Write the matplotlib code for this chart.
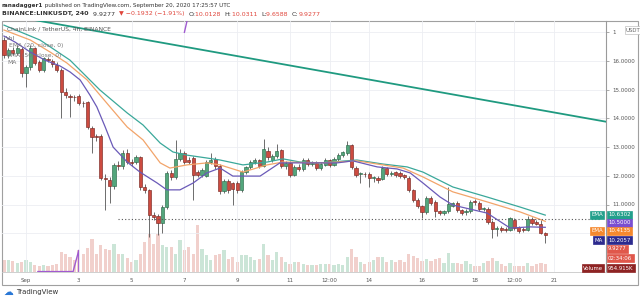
import matplotlib
matplotlib.use('Agg')
import matplotlib.pyplot as plt
from matplotlib.patches import Rectangle

# 4h candles, index 0 = Sep 1 00:00 (first candle = Aug 31 04:00)
first_t = -5
opens = [16.73, 16.21, 16.38, 16.27, 16.42, 15.58, 15.79, 16.45, 15.96, 15.69,
         16.08, 16.00, 15.86, 15.69, 14.92, 14.78, 14.75, 14.78, 14.54, 14.57,
         13.67, 13.36, 13.39, 11.92, 11.85, 11.64, 12.36, 12.34, 12.80, 12.48,
         12.48, 12.65, 11.60, 11.50, 10.63, 10.60, 10.36, 10.91, 12.10, 11.96,
         12.59, 12.80, 12.55, 12.62, 12.13, 12.03, 12.00, 12.48, 12.59, 12.34,
         11.47, 11.82, 11.75, 11.75, 11.50, 12.13, 12.30, 12.48, 12.55, 12.34,
         12.86, 12.55, 12.69, 12.90, 12.34, 12.45, 12.03, 12.31, 12.24, 12.55,
         12.41, 12.45, 12.27, 12.38, 12.55, 12.38, 12.59, 12.72, 12.79, 13.07,
         12.27, 12.06, 12.06, 12.06, 11.92, 11.92, 11.89, 12.27, 12.08, 12.13,
         12.10, 12.03, 11.92, 11.50, 11.15, 10.94, 10.74, 11.23, 11.10, 10.77,
         10.70, 10.77, 10.95, 11.06, 10.80, 10.74, 10.77, 11.09, 11.06, 10.84,
         10.84, 10.39, 10.15, 10.18, 10.15, 10.11, 10.46, 10.21, 10.15, 10.11,
         10.50, 10.39, 10.33, 10.0128]
highs = [16.85, 16.45, 16.50, 16.55, 16.50, 15.85, 16.55, 16.50, 16.05, 16.15,
         16.15, 16.06, 15.95, 15.75, 15.05, 14.85, 14.82, 14.85, 14.62, 14.62,
         13.75, 13.45, 13.45, 12.05, 11.95, 12.45, 12.50, 12.90, 12.95, 12.60,
         12.72, 12.70, 11.70, 11.55, 10.75, 10.68, 10.98, 12.15, 12.20, 13.25,
         12.95, 12.88, 12.65, 12.70, 12.20, 12.28, 12.55, 12.80, 12.65, 12.40,
         11.90, 11.88, 11.80, 11.82, 12.20, 12.35, 12.55, 12.62, 12.60, 13.28,
         13.00, 12.75, 13.10, 12.95, 12.50, 12.52, 12.38, 12.40, 12.62, 12.62,
         12.50, 12.50, 12.48, 12.62, 12.60, 12.65, 12.78, 12.88, 13.20, 13.12,
         12.35, 12.12, 12.12, 12.12, 12.00, 11.98, 12.33, 12.32, 12.16, 12.18,
         12.15, 12.08, 11.98, 11.55, 11.22, 11.00, 11.30, 11.28, 11.15, 10.82,
         10.82, 11.61, 11.10, 11.12, 10.86, 10.85, 11.15, 11.20, 11.12, 10.92,
         10.90, 10.45, 10.25, 10.25, 10.22, 10.58, 10.52, 10.26, 10.20, 10.60,
         10.56, 10.45, 10.45, 10.0311]
lows = [16.10, 16.12, 16.20, 16.20, 15.45, 15.09, 15.70, 15.85, 15.60, 15.62,
        15.95, 15.80, 15.62, 14.00, 14.70, 14.05, 14.62, 14.45, 14.40, 13.62,
        12.79, 13.20, 11.85, 10.81, 11.05, 11.55, 12.20, 12.25, 12.40, 12.35,
        12.40, 11.50, 11.40, 9.87, 10.45, 9.95, 10.00, 10.85, 11.85, 11.90,
        12.50, 12.40, 12.40, 11.16, 11.95, 11.95, 11.95, 12.40, 12.25, 11.35,
        11.40, 11.40, 11.00, 11.40, 11.45, 12.05, 12.25, 12.40, 12.28, 12.30,
        12.55, 12.48, 12.62, 12.28, 12.25, 11.95, 11.98, 12.18, 12.18, 12.35,
        12.35, 12.20, 12.20, 12.33, 12.30, 12.33, 12.52, 12.66, 12.74, 12.25,
        11.95, 11.75, 11.95, 11.60, 11.80, 11.75, 11.85, 11.98, 11.98, 11.96,
        11.92, 11.88, 11.45, 11.10, 10.88, 10.53, 10.68, 11.00, 10.55, 10.62,
        10.64, 10.72, 10.90, 10.74, 10.62, 10.65, 10.72, 11.00, 10.78, 10.76,
        10.33, 9.84, 9.90, 10.05, 10.05, 10.06, 10.12, 10.02, 10.05, 10.06,
        10.30, 10.28, 9.98, 9.6588]
closes = [16.21, 16.38, 16.27, 16.45, 15.58, 15.79, 16.45, 15.93, 15.69, 16.10,
          16.03, 15.88, 15.69, 14.92, 14.82, 14.75, 14.73, 14.54, 14.52, 13.70,
          13.35, 13.35, 11.92, 11.90, 11.64, 12.38, 12.34, 12.80, 12.48, 12.45,
          12.65, 11.60, 11.50, 10.63, 10.56, 10.36, 10.91, 12.10, 11.96, 12.59,
          12.80, 12.48, 12.48, 12.03, 12.03, 12.20, 12.48, 12.55, 12.34, 11.47,
          11.82, 11.50, 11.54, 11.50, 12.13, 12.30, 12.48, 12.55, 12.34, 12.93,
          12.65, 12.69, 12.86, 12.34, 12.45, 12.03, 12.31, 12.24, 12.55, 12.41,
          12.45, 12.27, 12.41, 12.55, 12.38, 12.59, 12.72, 12.83, 13.07, 12.30,
          12.03, 12.06, 12.05, 11.92, 11.92, 11.85, 12.27, 12.06, 12.10, 12.03,
          11.99, 11.96, 11.50, 11.15, 10.94, 10.74, 11.23, 11.06, 10.77, 10.70,
          10.77, 11.02, 11.05, 10.80, 10.70, 10.77, 11.09, 11.08, 10.84, 10.84,
          10.39, 10.15, 10.15, 10.11, 10.11, 10.53, 10.18, 10.08, 10.11, 10.50,
          10.36, 10.33, 10.01, 9.9277]
# volume, millions
volumes = [1.44, 1.44, 1.32, 1.08, 1.20, 1.44, 1.20, 0.84, 0.72, 0.84,
           0.72, 0.84, 0.96, 2.40, 2.16, 1.80, 1.44, 2.64, 2.16, 2.88,
           3.96, 2.16, 3.24, 2.76, 2.64, 3.36, 2.16, 2.16, 1.68, 1.20,
           1.44, 2.16, 3.60, 4.56, 3.36, 4.56, 3.24, 3.00, 3.00, 2.16,
           3.84, 2.64, 3.00, 2.16, 5.64, 2.76, 2.04, 1.44, 2.04, 2.16,
           2.64, 1.56, 1.80, 1.20, 2.04, 2.04, 1.80, 1.44, 1.56, 3.36,
           2.04, 1.44, 2.40, 1.80, 1.20, 0.96, 1.20, 1.20, 0.96, 0.84,
           0.84, 0.84, 0.96, 0.96, 0.96, 0.84, 0.96, 0.84, 1.80, 2.76,
           1.80, 1.20, 0.96, 1.20, 1.44, 1.80, 1.80, 1.20, 1.44, 1.20,
           1.44, 1.20, 2.16, 1.92, 1.68, 1.32, 1.56, 1.32, 1.56, 1.68,
           1.08, 2.28, 1.08, 1.08, 0.96, 1.32, 0.96, 0.72, 0.72, 1.08,
           1.32, 1.68, 1.32, 0.96, 0.72, 1.08, 0.72, 0.72, 0.72, 1.08,
           0.72, 0.96, 1.08, 0.95]

# indicator lines (candle index, price)
ma_t = [-5, -2.5, 1, 4.3, 7.7, 10, 12.3, 14.5, 16.1, 18, 19.8, 23, 25.9, 29.8,
        32, 35, 38, 41.1, 44.1, 47, 53.2, 57.7, 62.3, 70.7, 74.3, 79.8, 84.3,
        87.3, 90.2, 94.1, 97, 104.8, 110, 114.5, 118]
ma_p = [16.87, 16.66, 16.31, 16.03, 15.83, 15.62, 15.34, 14.82, 14.40, 13.70,
        13.00, 12.48, 12.13, 11.75, 11.51, 11.51, 11.75, 12.10, 12.27, 11.99,
        11.99, 12.45, 12.45, 12.45, 12.52, 12.31, 12.24, 12.10, 11.75, 11.26,
        10.98, 10.70, 10.18, 10.22, 10.2057]
ema1_t = [-5, 1, 5.5, 9.3, 13.9, 19.1, 23, 26.6, 30.5, 32.7, 36.6, 41.1, 44.1,
          49.3, 54.8, 58.4, 66.8, 70.7, 75.2, 81.1, 85.7, 90.2, 97, 104.8,
          112.3, 118]
ema1_p = [17.08, 16.73, 16.31, 15.93, 15.34, 14.40, 13.70, 13.25, 12.45, 12.27,
          12.38, 12.45, 12.38, 12.13, 12.38, 12.48, 12.45, 12.48, 12.52, 12.38,
          12.27, 11.96, 11.44, 11.09, 10.74, 10.4135]
ema2_t = [-5, 3.2, 10, 16.8, 23, 26.6, 30.5, 33.4, 36.6, 41.1, 44.1, 49.3,
          54.8, 58.4, 62.3, 66.8, 75.2, 81.1, 86.6, 90.2, 97, 104.8, 112.3, 118]
ema2_p = [17.25, 16.73, 16.03, 14.99, 14.19, 13.77, 13.14, 12.83, 12.72, 12.62,
          12.55, 12.38, 12.48, 12.59, 12.48, 12.45, 12.55, 12.41, 12.31, 12.13,
          11.61, 11.26, 10.91, 10.6302]
volma_t = [2.7, 10.7, 12.0, 12.0]
volma_v = [0.05, 0.05, 2.6, 0.0]
purple_t = [36.0, 36.6]
purple_p = [17.0, 17.4]
trend_t = [0, 131.8]
trend_p = [17.48, 13.885]
hline_t0 = 21
hline_p = 10.5

xtick_t = [0, 12, 24, 36, 48, 60, 69, 78, 90, 102, 111, 120]
xtick_lab = ['Sep', '3', '5', '7', '9', '11', '12:00', '14', '16', '18', '12:00', '21']
ytick_p = [11, 12, 13, 14, 15, 16, 17]
# 17.0000 sits behind the USDT tag, only its first digit shows
ytick_lab = ['11.0000', '12.0000', '13.0000', '14.0000', '15.0000', '16.0000', '1']

W, H = 640, 300
def fx(x): return x / W
def fy(y): return 1 - y / H

UP, DN = '#53a67c', '#cc4b40'
UP_E, DN_E = '#2e6b4b', '#7a2a24'
GRID = '#eceef2'

fig = plt.figure(figsize=(6.4, 3.0), dpi=100)
rect = [fx(2), fy(272), fx(606) - fx(2), fy(21) - fy(272)]
axv = fig.add_axes(rect, zorder=0)
ax = fig.add_axes(rect, zorder=1)
ax.patch.set_alpha(0)

tt = list(range(first_t, first_t + len(closes)))
xlim = (-5.45, 131.8)
ylim = (16 - (272 - 61) / 28.7, 16 - (21 - 61) / 28.7)

# volume pane
vcol = ['#cbe5d7' if c >= o else '#f1d0cc' for o, c in zip(opens, closes)]
axv.bar(tt, volumes, width=0.75, color=vcol, linewidth=0)
axv.plot(volma_t, volma_v, color='#a05ad0', lw=1.0)
axv.set_xlim(xlim)
axv.set_ylim(0, 30.1)
axv.axis('off')

# grid
for t in xtick_t:
    ax.axvline(t, color=GRID, lw=0.6, zorder=0)
for p in ytick_p + [10]:
    ax.axhline(p, color=GRID, lw=0.6, zorder=0)

# candles
for t, o, h, l, c in zip(tt, opens, highs, lows, closes):
    up = c >= o
    ax.vlines(t, l, h, color='#555555', lw=0.6, zorder=2)
    ax.bar(t, max(abs(c - o), 0.03), bottom=min(o, c), width=0.72,
           color=UP if up else DN, edgecolor=UP_E if up else DN_E, lw=0.45, zorder=3)

ax.plot(ema2_t, ema2_p, color='#3aa89a', lw=0.9, zorder=4)
ax.plot(ema1_t, ema1_p, color='#f2a46a', lw=0.9, zorder=4)
ax.plot(ma_t, ma_p, color='#6a5ab8', lw=0.9, zorder=4)
ax.plot(trend_t, trend_p, color='#1f9a80', lw=1.3, zorder=5)
ax.plot(purple_t, purple_p, color='#a05ad0', lw=1.0, zorder=5)
ax.hlines(hline_p, hline_t0, 130.5, color='#555555', lw=0.8,
          linestyles=(0, (1, 2)), zorder=5)

ax.set_xlim(xlim)
ax.set_ylim(ylim)
ax.set_xticks(xtick_t)
ax.set_xticklabels(xtick_lab, fontsize=4, color='#555555')
ax.tick_params(axis='x', length=0, pad=4)
ax.yaxis.tick_right()
ax.set_yticks(ytick_p)
ax.set_yticklabels(ytick_lab, fontsize=4, color='#555555')
ax.tick_params(axis='y', length=2.5, width=0.5, color='#888888', pad=2)
for s in ['left', 'top', 'bottom']:
    ax.spines[s].set_visible(False)
ax.spines['right'].set_color('#9a9a9a')
ax.spines['right'].set_linewidth(0.8)

# frame and separators
fig.add_artist(Rectangle((fx(2), fy(285)), fx(638) - fx(2), fy(21) - fy(285),
                         transform=fig.transFigure, fill=False, ec='#a0a0a0', lw=0.8))
fig.add_artist(plt.Line2D([fx(2), fx(606)], [fy(272), fy(272)],
                          transform=fig.transFigure, color='#c8c8c8', lw=0.6))

# header
r = fig.canvas.get_renderer()
def run_text(x, y, pieces, size=4.4):
    for s, col, wt in pieces:
        tx = fig.text(fx(x), fy(y), s, fontsize=size, color=col, fontweight=wt, va='center')
        x += tx.get_window_extent(renderer=r).width
    return x

RED = '#e0463c'
run_text(2, 5, [('ranadagger1', '#333333', 'bold'),
                (' published on TradingView.com, September 20, 2020 17:25:57 UTC', '#333333', 'normal')],
         size=4.1)
run_text(2, 14, [('BINANCE:LINKUSDT, 240  ', '#333333', 'bold'),
                 ('9.9277  ', '#333333', 'normal'),
                 ('\u25bc \u22120.1932 (\u22121.91%)  ', RED, 'normal'),
                 ('O:', '#333333', 'normal'), ('10.0128  ', RED, 'normal'),
                 ('H:', '#333333', 'normal'), ('10.0311  ', RED, 'normal'),
                 ('L:', '#333333', 'normal'), ('9.6588  ', RED, 'normal'),
                 ('C:', '#333333', 'normal'), ('9.9277', RED, 'normal')],
         size=4.5)

# legend block
fig.text(fx(7), fy(29), 'ChainLink / TetherUS, 4h, BINANCE', fontsize=4.3, color='#555555', va='center')
fig.text(fx(6), fy(38), 'Vol', fontsize=4.3, color='#666666', va='center')
fig.text(fx(9), fy(46), 'EMA (20, close, 0)', fontsize=4.3, color='#777777', va='center')
fig.text(fx(7), fy(55), 'EMA (50, close, 0)', fontsize=4.3, color='#777777', va='center')
fig.text(fx(7), fy(63), 'MA', fontsize=4.3, color='#777777', va='center')

# right side labels
def box(x, y, s, col, ha='left', tc='white', ec=None):
    fig.text(fx(x), fy(y), s, fontsize=3.9, color=tc, ha=ha, va='center',
             bbox=dict(boxstyle='square,pad=0.25', fc=col, ec=ec or col, lw=0.5))

box(626, 30, 'USDT', 'white', tc='#666666', ec='#c0c0c0')
box(608, 215, '10.6302', '#23a08c')
box(603, 215, 'EMA', '#23a08c', ha='right')
box(608, 223, '10.5000', '#7a4fd0')
box(608, 231, '10.4135', '#f5892e')
box(603, 231, 'EMA', '#f5892e', ha='right')
box(608, 240, '10.2057', '#2c2a8e')
box(603, 240, 'MA', '#2c2a8e', ha='right')
box(608, 249, '9.9277', '#e0574b')
box(608, 258, '02:34:06', '#e0574b')
box(608, 268, '954.915K', '#8e2323')
box(603, 268, 'Volume', '#8e2323', ha='right')

# footer logo
fig.text(fx(3), fy(294.5), '\u2601', fontsize=7, color='#2a78d6', va='baseline')
fig.text(fx(16), fy(292), 'TradingView', fontsize=5, color='#333333', va='center')

fig.savefig('out.png', dpi=100)
